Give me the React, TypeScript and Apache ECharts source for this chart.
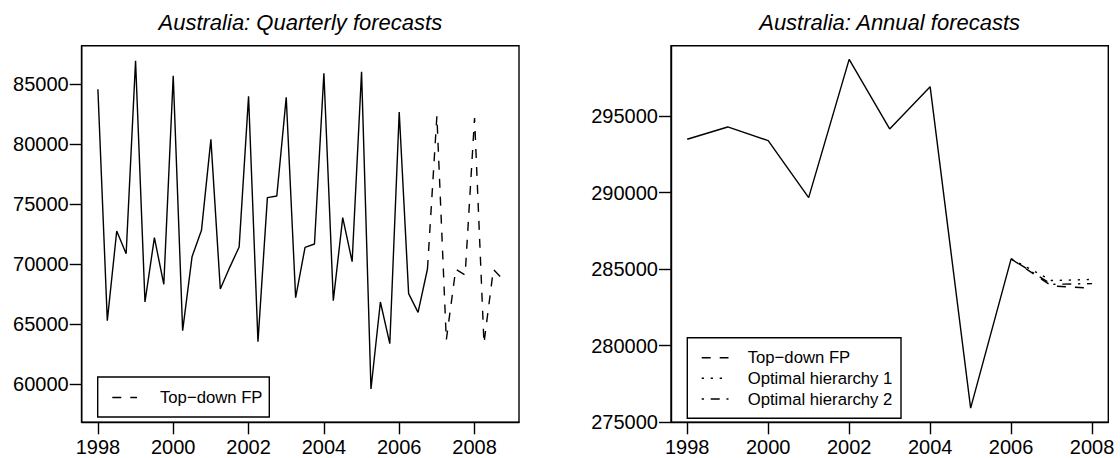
import React, { useEffect, useRef } from "react";
import * as echarts from "echarts";

// ---------- data ----------
const quarterStart = 1998;
const quarterlyActual = [
  84556, 65278, 72750, 70861,
  86944, 66833, 72194, 68306,
  85694, 64444, 70611, 72806,
  80389, 67917, 69722, 71417,
  83972, 63528, 75528, 75667,
  83889, 67194, 71389, 71667,
  85889, 66944, 73861, 70194,
  86028, 59583, 66833, 63361,
  82667, 67528, 65972, 69583,
];
const quarterlyForecast = [82333, 63667, 69556, 69083, 82167, 63389, 69556, 68722];

const annualYears = [1998, 1999, 2000, 2001, 2002, 2003, 2004, 2005, 2006];
const annualActual = [293477, 294282, 293390, 289669, 298699, 294151, 296915, 275916, 285665];
const forecastYears = [2007, 2008];
const topDownFP = [283900, 283750];
const optimalHierarchy1 = [284250, 284320];
const optimalHierarchy2 = [284000, 284050];

const xTicks = [1998, 2000, 2002, 2004, 2006, 2008];
const quarterlyYTicks = [60000, 65000, 70000, 75000, 80000, 85000];
const annualYTicks = [275000, 280000, 285000, 290000, 295000];

// ---------- styling ----------
const FONT = '"Liberation Sans", Arial, Helvetica, sans-serif';
const BLACK = "#000";
const LW = 1.4;
const DASHED = [9, 9];
const DOTTED = [2.25, 6.75];
const DOTDASH = [2.25, 6.75, 9, 6.75];

const qActualData = quarterlyActual.map((v, i) => [quarterStart + i / 4, v]);
const lastQ = quarterlyActual.length - 1;
const qForecastData = [
  [quarterStart + lastQ / 4, quarterlyActual[lastQ]],
  ...quarterlyForecast.map((v, j) => [quarterStart + (lastQ + 1 + j) / 4, v]),
];
const aActualData = annualYears.map((y, i) => [y, annualActual[i]]);
const lastA = annualActual.length - 1;
const fcData = (vals: number[]) => [
  [annualYears[lastA], annualActual[lastA]],
  ...vals.map((v, j) => [forecastYears[j], v]),
];

const gridTop = 45.7;
const gridHeight = 376.6;
const gridWidth = 437.3;
const leftGridX = 81.7;
const rightGridX = 671;

function xAxis(gridIndex: number, min: number, max: number) {
  return {
    type: "value",
    gridIndex,
    min,
    max,
    axisLine: { show: true, onZero: false, lineStyle: { color: BLACK, width: 1.4 } },
    splitLine: { show: false },
    axisTick: { show: true, length: 12, customValues: xTicks, lineStyle: { color: BLACK, width: 1.4 } },
    axisLabel: {
      customValues: xTicks,
      margin: 15,
      fontSize: 20,
      fontFamily: FONT,
      color: BLACK,
      formatter: (v: number) => String(v),
    },
  };
}

function yAxis(gridIndex: number, min: number, max: number, ticks: number[]) {
  return {
    type: "value",
    gridIndex,
    min,
    max,
    axisLine: { show: true, onZero: false, lineStyle: { color: BLACK, width: 1.4 } },
    splitLine: { show: false },
    axisTick: { show: true, length: 12, customValues: ticks, lineStyle: { color: BLACK, width: 1.4 } },
    axisLabel: {
      customValues: ticks,
      margin: 13,
      fontSize: 20,
      fontFamily: FONT,
      color: BLACK,
      formatter: (v: number) => String(v),
    },
  };
}

function lineSeries(name: string, xi: number, data: number[][], type: any) {
  return {
    type: "line",
    name,
    xAxisIndex: xi,
    yAxisIndex: xi,
    data,
    symbol: "none",
    silent: true,
    lineStyle: { color: BLACK, width: LW, type },
  };
}

const legendFont = `16.7px ${FONT}`;

const option: any = {
  animation: false,
  backgroundColor: "#fff",
  grid: [
    { left: leftGridX, top: gridTop, width: gridWidth, height: gridHeight, show: true, borderColor: BLACK, borderWidth: 1.4, backgroundColor: "transparent" },
    { left: rightGridX, top: gridTop, width: gridWidth, height: gridHeight, show: true, borderColor: BLACK, borderWidth: 1.4, backgroundColor: "transparent" },
  ],
  xAxis: [xAxis(0, 1997.57, 2009.18), xAxis(1, 1997.6, 2008.4)],
  yAxis: [yAxis(0, 56808, 88192, quarterlyYTicks), yAxis(1, 274990, 299590, annualYTicks)],
  series: [
    lineSeries("Quarterly actual", 0, qActualData, "solid"),
    lineSeries("Top−down FP (quarterly)", 0, qForecastData, DASHED),
    lineSeries("Annual actual", 1, aActualData, "solid"),
    lineSeries("Top−down FP", 1, fcData(topDownFP), DASHED),
    lineSeries("Optimal hierarchy 1", 1, fcData(optimalHierarchy1), DOTTED),
    lineSeries("Optimal hierarchy 2", 1, fcData(optimalHierarchy2), DOTDASH),
  ],
  graphic: [
    {
      type: "text",
      x: leftGridX + gridWidth / 2,
      y: 22.5,
      style: { text: "Australia: Quarterly forecasts", font: `italic 22px ${FONT}`, fill: BLACK, align: "center", verticalAlign: "middle" },
    },
    {
      type: "text",
      x: rightGridX + gridWidth / 2,
      y: 22.5,
      style: { text: "Australia: Annual forecasts", font: `italic 22px ${FONT}`, fill: BLACK, align: "center", verticalAlign: "middle" },
    },
    // left legend
    {
      type: "group",
      children: [
        { type: "rect", shape: { x: 97.7, y: 377, width: 171.6, height: 40 }, style: { fill: "#fff", stroke: BLACK, lineWidth: 1.4 } },
        { type: "line", shape: { x1: 112.3, y1: 397.5, x2: 137, y2: 397.5 }, style: { stroke: BLACK, lineWidth: LW, lineDash: DASHED } },
        { type: "text", x: 160, y: 397.5, style: { text: "Top−down FP", font: legendFont, fill: BLACK, verticalAlign: "middle" } },
      ],
    },
    // right legend
    {
      type: "group",
      children: [
        { type: "rect", shape: { x: 687.3, y: 337.7, width: 213.7, height: 80.6 }, style: { fill: "#fff", stroke: BLACK, lineWidth: 1.4 } },
        { type: "line", shape: { x1: 701.7, y1: 357.7, x2: 728.5, y2: 357.7 }, style: { stroke: BLACK, lineWidth: LW, lineDash: DASHED } },
        { type: "text", x: 747.7, y: 357.7, style: { text: "Top−down FP", font: legendFont, fill: BLACK, verticalAlign: "middle" } },
        { type: "line", shape: { x1: 701.7, y1: 378.3, x2: 728.5, y2: 378.3 }, style: { stroke: BLACK, lineWidth: LW, lineDash: DOTTED } },
        { type: "text", x: 747.7, y: 378.3, style: { text: "Optimal hierarchy 1", font: legendFont, fill: BLACK, verticalAlign: "middle" } },
        { type: "line", shape: { x1: 701.7, y1: 399, x2: 728.5, y2: 399 }, style: { stroke: BLACK, lineWidth: LW, lineDash: DOTDASH } },
        { type: "text", x: 747.7, y: 399, style: { text: "Optimal hierarchy 2", font: legendFont, fill: BLACK, verticalAlign: "middle" } },
      ],
    },
  ],
};

export default function App() {
  const ref = useRef<HTMLDivElement>(null);
  useEffect(() => {
    if (!ref.current) return;
    const chart = echarts.init(ref.current, null, { renderer: "svg" });
    chart.setOption(option);
    return () => chart.dispose();
  }, []);
  return (
    <div
      ref={ref}
      style={{ position: "fixed", left: 0, top: 0, width: 1120, height: 458, background: "#fff" }}
    />
  );
}
